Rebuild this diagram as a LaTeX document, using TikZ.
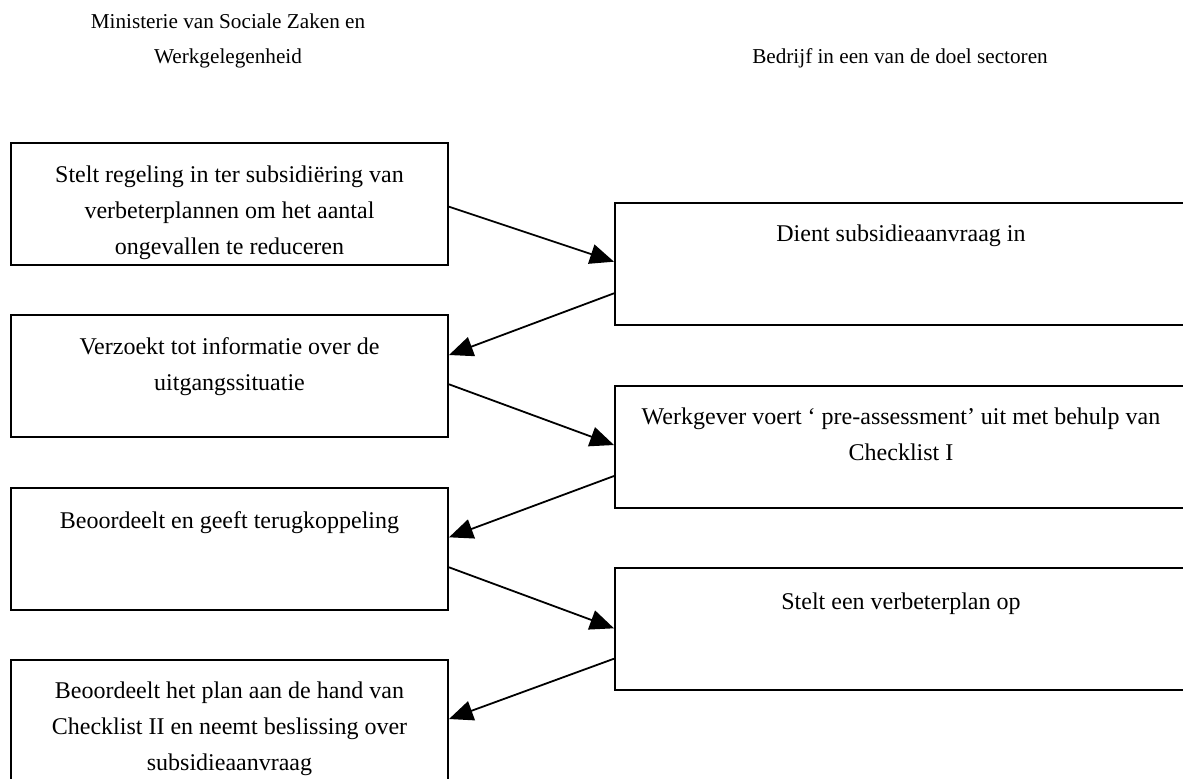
\documentclass[tikz,border=0pt]{standalone}
\usepackage{fontspec}
\setmainfont{Liberation Serif}
\usetikzlibrary{arrows.meta}

% text set in a top-aligned centred block; the node's base is the first baseline
\newcommand{\blocktext}[2]{\parbox[t]{#1}{\centering #2}}

\tikzset{
  stepbox/.style={draw, line width=1pt, rectangle, inner sep=0pt, anchor=north west},
  leftbox/.style={stepbox, minimum width=218.5pt, minimum height=61pt},
  rightbox/.style={stepbox, minimum width=286pt, minimum height=61pt},
  boxtext/.style={inner sep=0pt, anchor=base, font=\fontsize{12pt}{18pt}\selectfont},
  headtext/.style={inner sep=0pt, anchor=base, font=\fontsize{10.6pt}{17.5pt}\selectfont},
  flow/.style={line width=0.9pt, -{Triangle[length=12pt, width=10pt]}}
}

\begin{document}
\begin{tikzpicture}[x=0.5pt, y=-0.5pt]
  \useasboundingbox (0,0) rectangle (1183,778);
  \clip (0,0) rectangle (1183,778);

  % column headings
  \node[headtext] (hmin) at (228,28.3)
    {\blocktext{200pt}{Ministerie van Sociale Zaken en\\Werkgelegenheid}};
  \node[headtext] (hbed) at (900,63.3)
    {\blocktext{200pt}{Bedrijf in een van de doel sectoren}};

  % ministry steps (left column)
  \node[leftbox] (L1) at (10,142) {};
  \node[leftbox] (L2) at (10,314) {};
  \node[leftbox] (L3) at (10,487) {};
  \node[leftbox] (L4) at (10,659) {};

  % company steps (right column)
  \node[rightbox] (R1) at (614,202) {};
  \node[rightbox] (R2) at (614,385) {};
  \node[rightbox] (R3) at (614,567) {};

  % box texts
  \node[boxtext] (L1t) at ([yshift=-20pt]L1.north)
    {\blocktext{210pt}{Stelt regeling in ter subsidiëring van\\verbeterplannen om het aantal\\ongevallen te reduceren}};
  \node[boxtext] (L2t) at ([yshift=-20pt]L2.north)
    {\blocktext{210pt}{Verzoekt tot informatie over de\\uitgangssituatie}};
  \node[boxtext] (L3t) at ([yshift=-20.5pt]L3.north)
    {\blocktext{210pt}{Beoordeelt en geeft terugkoppeling}};
  \node[boxtext] (L4t) at ([yshift=-19.5pt]L4.north)
    {\blocktext{210pt}{Beoordeelt het plan aan de hand van\\Checklist II en neemt beslissing over\\subsidieaanvraag}};
  \node[boxtext] (R1t) at ([yshift=-19.5pt]R1.north)
    {\blocktext{280pt}{Dient subsidieaanvraag in}};
  \node[boxtext] (R2t) at ([yshift=-19.5pt]R2.north)
    {\blocktext{280pt}{Werkgever voert ‘ pre-assessment’ uit met behulp van\\Checklist I}};
  \node[boxtext] (R3t) at ([yshift=-21pt]R3.north)
    {\blocktext{280pt}{Stelt een verbeterplan op}};

  % flow between the two parties
  \draw[flow] ([yshift=-32.35pt]L1.north east) -- ([yshift=-29.85pt]R1.north west);
  \draw[flow] ([yshift=-45.65pt]R1.north west) -- ([yshift=-20.5pt]L2.north east);
  \draw[flow] ([yshift=-35.15pt]L2.north east) -- ([yshift=-30pt]R2.north west);
  \draw[flow] ([yshift=-45.5pt]R2.north west) -- ([yshift=-25.15pt]L3.north east);
  \draw[flow] ([yshift=-40.15pt]L3.north east) -- ([yshift=-30.65pt]R3.north west);
  \draw[flow] ([yshift=-45.85pt]R3.north west) -- ([yshift=-30pt]L4.north east);
\end{tikzpicture}
\end{document}
